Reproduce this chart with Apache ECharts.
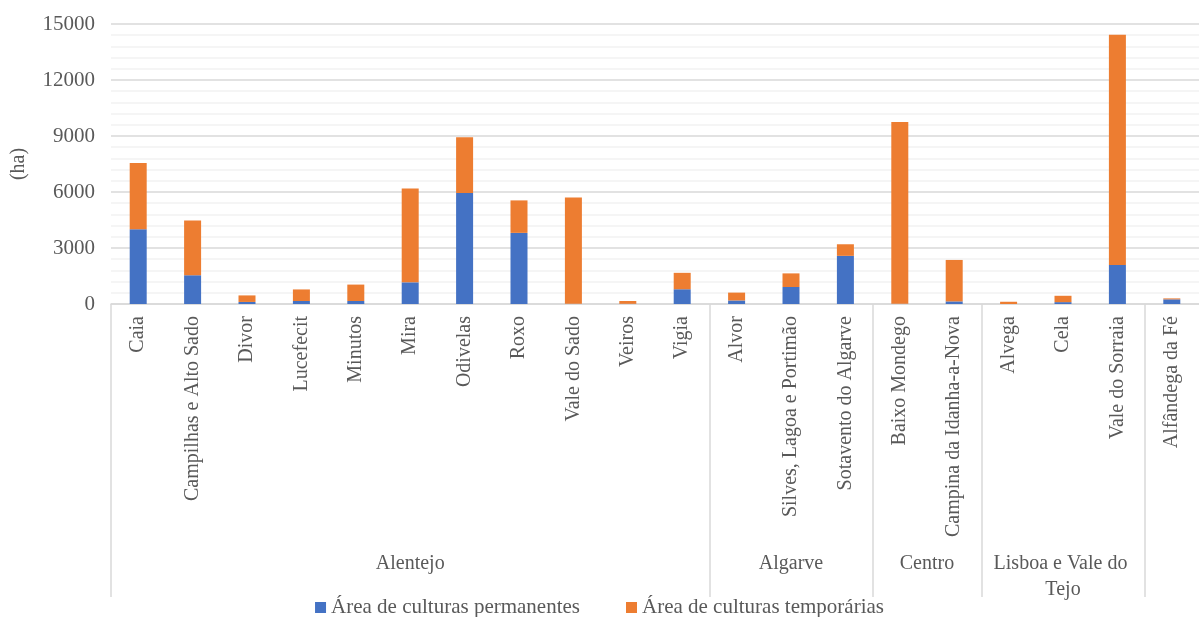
<!DOCTYPE html>
<html><head><meta charset="utf-8">
<script src="https://cdn.jsdelivr.net/npm/echarts@6/dist/echarts.min.js"></script>
<style>html,body{margin:0;padding:0;background:#fff}#c{width:1199px;height:617px}</style>
</head><body><div id="c"></div>
<script>
const categories = ['Caia','Campilhas e Alto Sado','Divor','Lucefecit','Minutos','Mira','Odivelas','Roxo','Vale do Sado','Veiros','Vigia','Alvor','Silves, Lagoa e Portimão','Sotavento do Algarve','Baixo Mondego','Campina da Idanha-a-Nova','Alvega','Cela','Vale do Sorraia','Alfândega da Fé'];
const groupNames = ['Alentejo','Algarve','Centro','Lisboa e Vale do Tejo','Norte'];
const groupSizes = [11,3,2,3,1];
const permanentes = [4000,1540,110,160,160,1160,5940,3810,10,10,790,190,910,2580,10,140,0,100,2090,250];
const temporarias = [3550,2930,350,620,880,5030,2990,1740,5690,150,880,420,730,620,9740,2220,120,340,12330,50];
const seriesNames = ['Área de culturas permanentes','Área de culturas temporárias'];
const yTicks = [0,3000,6000,9000,12000,15000];
const yTitle = '(ha)';

const font = 'Liberation Serif';
const gray = '#595959';
// group boundaries (without the right plot edge) and centers on the category index scale
const bounds = [0]; groupSizes.forEach(s => bounds.push(bounds[bounds.length-1] + s));
const centers = groupSizes.map((s,i) => bounds[i] + s/2);
const separators = bounds.slice(0, bounds.length - 1);

const chart = echarts.init(document.getElementById('c'));
chart.setOption({
  animation: false,
  grid: {left: 111, right: 0, top: 24, bottom: 313, containLabel: false},
  legend: {
    top: 592, left: 'center', icon: 'rect', itemWidth: 11, itemHeight: 11, itemGap: 46,
    textStyle: {fontFamily: font, fontSize: 21, color: gray}
  },
  xAxis: [{
    type: 'category', data: categories,
    axisLine: {lineStyle: {color: '#d9d9d9', width: 1.5}},
    axisTick: {show: false},
    axisLabel: {rotate: 90, margin: 12, fontFamily: font, fontSize: 20, color: gray, interval: 0}
  }, {
    type: 'value', position: 'bottom', min: 0, max: categories.length,
    axisLine: {show: false},
    splitLine: {show: false},
    axisTick: {show: true, inside: false, length: 293, customValues: separators, lineStyle: {color: '#d9d9d9', width: 1.5}},
    axisLabel: {
      customValues: centers, margin: 247, fontFamily: font, fontSize: 20, color: gray,
      lineHeight: 26, width: 158, overflow: 'break', align: 'center', verticalAlign: 'top',
      formatter: v => { const i = centers.indexOf(v); return i >= 0 ? groupNames[i] : ''; }
    }
  }],
  yAxis: {
    type: 'value', min: yTicks[0], max: yTicks[yTicks.length-1], interval: 3000,
    name: yTitle, nameLocation: 'middle', nameRotate: 90, nameGap: 82,
    nameTextStyle: {fontFamily: font, fontSize: 20, color: gray},
    axisLine: {show: false}, axisTick: {show: false},
    axisLabel: {margin: 16, fontFamily: font, fontSize: 21, color: gray, formatter: v => String(v)},
    splitLine: {lineStyle: {color: '#d9d9d9', width: 1.5}},
    minorTick: {show: false, splitNumber: 5},
    minorSplitLine: {show: true, lineStyle: {color: '#f2f2f2', width: 1.5}}
  },
  series: [{
    name: seriesNames[0], type: 'bar', stack: 'a', data: permanentes, barWidth: 17,
    itemStyle: {color: '#4472C4'}
  }, {
    name: seriesNames[1], type: 'bar', stack: 'a', data: temporarias, barWidth: 17,
    itemStyle: {color: '#ED7D31'}
  }]
});
</script></body></html>
